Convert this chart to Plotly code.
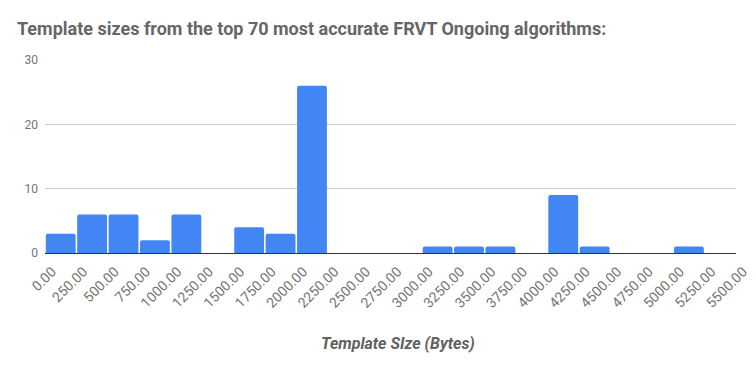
import plotly.graph_objects as go

bin_starts = [0, 250, 500, 750, 1000, 1250, 1500, 1750, 2000, 2250, 2500, 2750,
              3000, 3250, 3500, 3750, 4000, 4250, 4500, 4750, 5000, 5250]
counts = [3, 6, 6, 2, 6, 0, 4, 3, 26, 0, 0, 0,
          1, 1, 1, 0, 9, 1, 0, 0, 1, 0]
bin_width = 250
y_ticks = [0, 10, 20, 30]

centers = [s + bin_width / 2 for s in bin_starts]

fig = go.Figure()
fig.add_trace(go.Bar(
    x=centers, y=counts, marker=dict(color="#4285F4", line=dict(width=0)),
    hoverinfo="x+y",
))

fig.update_layout(
    width=756, height=371,
    margin=dict(l=45, r=20, t=60, b=118, autoexpand=False),
    paper_bgcolor="white", plot_bgcolor="white",
    bargap=0.05, barcornerradius=2,
    showlegend=False,
    font=dict(family="Roboto", color="#757575"),
    title=dict(
        text="Template sizes from the top 70 most accurate FRVT Ongoing algorithms:",
        x=17 / 756, xref="container", xanchor="left",
        y=1 - 29 / 371, yref="container", yanchor="middle",
        pad=dict(l=0, t=0, b=0, r=0),
        font=dict(family="Roboto", size=18, color="#666666", weight="bold"),
    ),
    xaxis=dict(
        range=[0, 5500], tickmode="linear", tick0=0, dtick=250,
        tickformat=".2f", tickangle=-45, automargin=False,
        tickfont=dict(size=14, color="#757575"),
        ticklabelshift=7, ticklabelstandoff=4,
        showgrid=False, zeroline=False,
        showline=True, linecolor="#333333", linewidth=1,
        ticks="", fixedrange=True,
    ),
    yaxis=dict(
        range=[0, 30], tickvals=y_ticks, automargin=False,
        tickfont=dict(size=12, color="#757575"),
        showgrid=True, gridcolor="#cccccc", gridwidth=1,
        zeroline=False, showline=False, ticks="", ticklabelstandoff=6,
        fixedrange=True,
    ),
    annotations=[dict(
        text="Template SIze (Bytes)", xref="paper", yref="paper",
        x=(398 - 45) / 691, y=(253 - 343) / 193,
        xanchor="center", yanchor="middle", showarrow=False,
        font=dict(family="Roboto", size=16, color="#616161", weight="bold", style="italic"),
    )],
)

fig.write_html(
    "out.html",
    config={"displayModeBar": False},
    post_script="document.body.style.margin='0';document.body.style.overflow='hidden';",
)
